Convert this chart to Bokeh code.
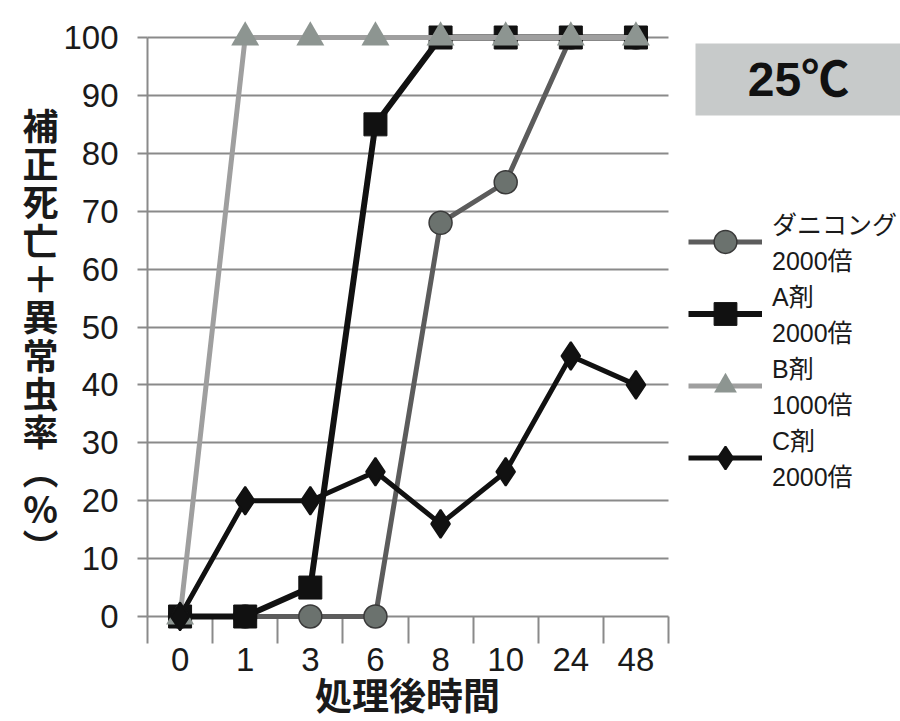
from bokeh.plotting import figure
from bokeh.models import (Range1d, FixedTicker, Legend, LegendItem, Label,
                          BoxAnnotation)
from bokeh.core.properties import value
from bokeh.embed import file_html
from bokeh.resources import INLINE

# Hours after treatment (categorical) and mortality + abnormal-insect rates (%)
hours = ["0", "1", "3", "6", "8", "10", "24", "48"]
danikong_2000 = [0, 0, 0, 0, 68, 75, 100, 100]
agent_a_2000 = [0, 0, 5, 85, 100, 100, 100, 100]
agent_b_1000 = [0, 100, 100, 100, 100, 100, 100, 100]
agent_c_2000 = [0, 20, 20, 25, 16, 25, 45, 40]
y_ticks = list(range(0, 101, 10))

series_names = ["ダニコング\n2000倍", "A剤\n2000倍", "B剤\n1000倍", "C剤\n2000倍"]

xs = list(range(len(hours)))

# canvas geometry (pixels): plotting area and where 0 / 100 % sit
W, H = 900, 721
LEFT, RIGHT = 147, 668
Y0_PX, Y100_PX = 616, 37
PX_X = (RIGHT - LEFT) / len(hours)
PX_Y = (Y0_PX - Y100_PX) / 100.0
X_START = -0.5 - LEFT / PX_X
X_END = X_START + W / PX_X
Y_START = -(H - Y0_PX) / PX_Y
Y_END = Y_START + H / PX_Y


def dx(px):
    return X_START + px / PX_X


def dy(py):
    return Y_START + (H - py) / PX_Y


LATIN = "'Liberation Sans', 'Noto Sans CJK JP'"
CJK = "'Noto Sans CJK JP'"
GRID = "#8a8a8a"
TEXT = "#1a1a1a"

p = figure(width=W, height=H,
           x_range=Range1d(X_START, X_END), y_range=Range1d(Y_START, Y_END),
           output_backend="svg", toolbar_location=None,
           min_border_left=0, min_border_right=0,
           min_border_top=0, min_border_bottom=0,
           background_fill_color="white", border_fill_color="white",
           outline_line_color=None)

# x axis on the 0 line: labels at category centres, ticks on the boundaries
xa = p.xaxis[0]
xa.fixed_location = 0
xa.bounds = (-0.5, len(hours) - 0.5)
xa.level = "underlay"
xa.ticker = FixedTicker(ticks=xs, minor_ticks=[i - 0.5 for i in range(len(hours) + 1)])
xa.major_label_overrides = {i: h for i, h in enumerate(hours)}
xa.major_tick_out = 0
xa.major_tick_in = 0
xa.minor_tick_out = 27
xa.minor_tick_in = 0
xa.minor_tick_line_color = GRID
xa.minor_tick_line_width = 2
xa.axis_line_color = GRID
xa.axis_line_width = 2
xa.major_label_standoff = 4
xa.major_label_text_font = LATIN
xa.major_label_text_font_size = "33px"
xa.major_label_text_color = TEXT

ya = p.yaxis[0]
ya.fixed_location = -0.5
ya.bounds = (0, 100)
ya.level = "underlay"
ya.ticker = FixedTicker(ticks=y_ticks)
ya.major_tick_out = 10
ya.major_tick_in = 0
ya.minor_tick_out = 0
ya.minor_tick_in = 0
ya.major_tick_line_color = GRID
ya.major_tick_line_width = 2
ya.axis_line_color = GRID
ya.axis_line_width = 2
ya.major_label_standoff = 19
ya.major_label_text_font = LATIN
ya.major_label_text_font_size = "33px"
ya.major_label_text_color = TEXT

p.xgrid.grid_line_color = None
p.ygrid.ticker = FixedTicker(ticks=y_ticks[1:])
p.ygrid.cross_bounds = (-0.5, len(hours) - 0.5)
p.ygrid.grid_line_color = GRID
p.ygrid.grid_line_width = 2

# series: line + markers
r1l = p.line(xs, danikong_2000, line_color="#5c5c5c", line_width=5)
r1m = p.scatter(xs, danikong_2000, marker="circle", size=23,
                fill_color="#6b726e", line_color="#3a3a3a", line_width=1.5)
r2l = p.line(xs, agent_a_2000, line_color="#111111", line_width=6)
r2m = p.scatter(xs, agent_a_2000, marker="square", size=23,
                fill_color="#111111", line_color="#111111")
r3l = p.line(xs, agent_b_1000, line_color="#9f9f9f", line_width=5)
r3m = p.scatter(xs, agent_b_1000, marker="triangle", size=28,
                fill_color="#8d9591", line_color=None)
r4l = p.line(xs, agent_c_2000, line_color="#111111", line_width=5)
r4m = p.scatter(xs, agent_c_2000, marker="diamond", size=28,
                fill_color="#111111", line_color="#111111", line_width=2)

legend = Legend(items=[
    LegendItem(label=value(series_names[0]), renderers=[r1l, r1m]),
    LegendItem(label=value(series_names[1]), renderers=[r2l, r2m]),
    LegendItem(label=value(series_names[2]), renderers=[r3l, r3m]),
    LegendItem(label=value(series_names[3]), renderers=[r4l, r4m]),
], location=(688, 228), orientation="vertical",
    glyph_width=74, glyph_height=57, label_standoff=10,
    label_text_font=LATIN, label_text_font_size="25px",
    label_text_color=TEXT,
    spacing=0, padding=4, margin=0,
    border_line_color=None, background_fill_alpha=0)
p.add_layout(legend)

# temperature badge
p.add_layout(BoxAnnotation(left=dx(695), right=dx(905), top=dy(43), bottom=dy(115),
                           fill_color="#c7caca", fill_alpha=1.0, line_color=None))
p.add_layout(Label(x=dx(798), y=dy(79), text="25℃", text_align="center",
                   text_baseline="middle", text_font=LATIN,
                   text_font_style="bold", text_font_size="48px",
                   text_color="#111111"))

# axis titles
p.add_layout(Label(x=dx(40), y=dy(334),
                   text="補\n正\n死\n亡\n＋\n異\n常\n虫\n率\n︵\n%\n︶",
                   text_align="center", text_baseline="middle",
                   text_font=CJK, text_font_style="bold",
                   text_font_size="36px", text_line_height=0.737,
                   text_color=TEXT))
p.add_layout(Label(x=dx(407), y=dy(720), text="処理後時間",
                   text_align="center", text_baseline="bottom",
                   text_font=CJK, text_font_style="bold",
                   text_font_size="37px", text_color=TEXT))

open("out.html", "w").write(file_html(p, INLINE))
